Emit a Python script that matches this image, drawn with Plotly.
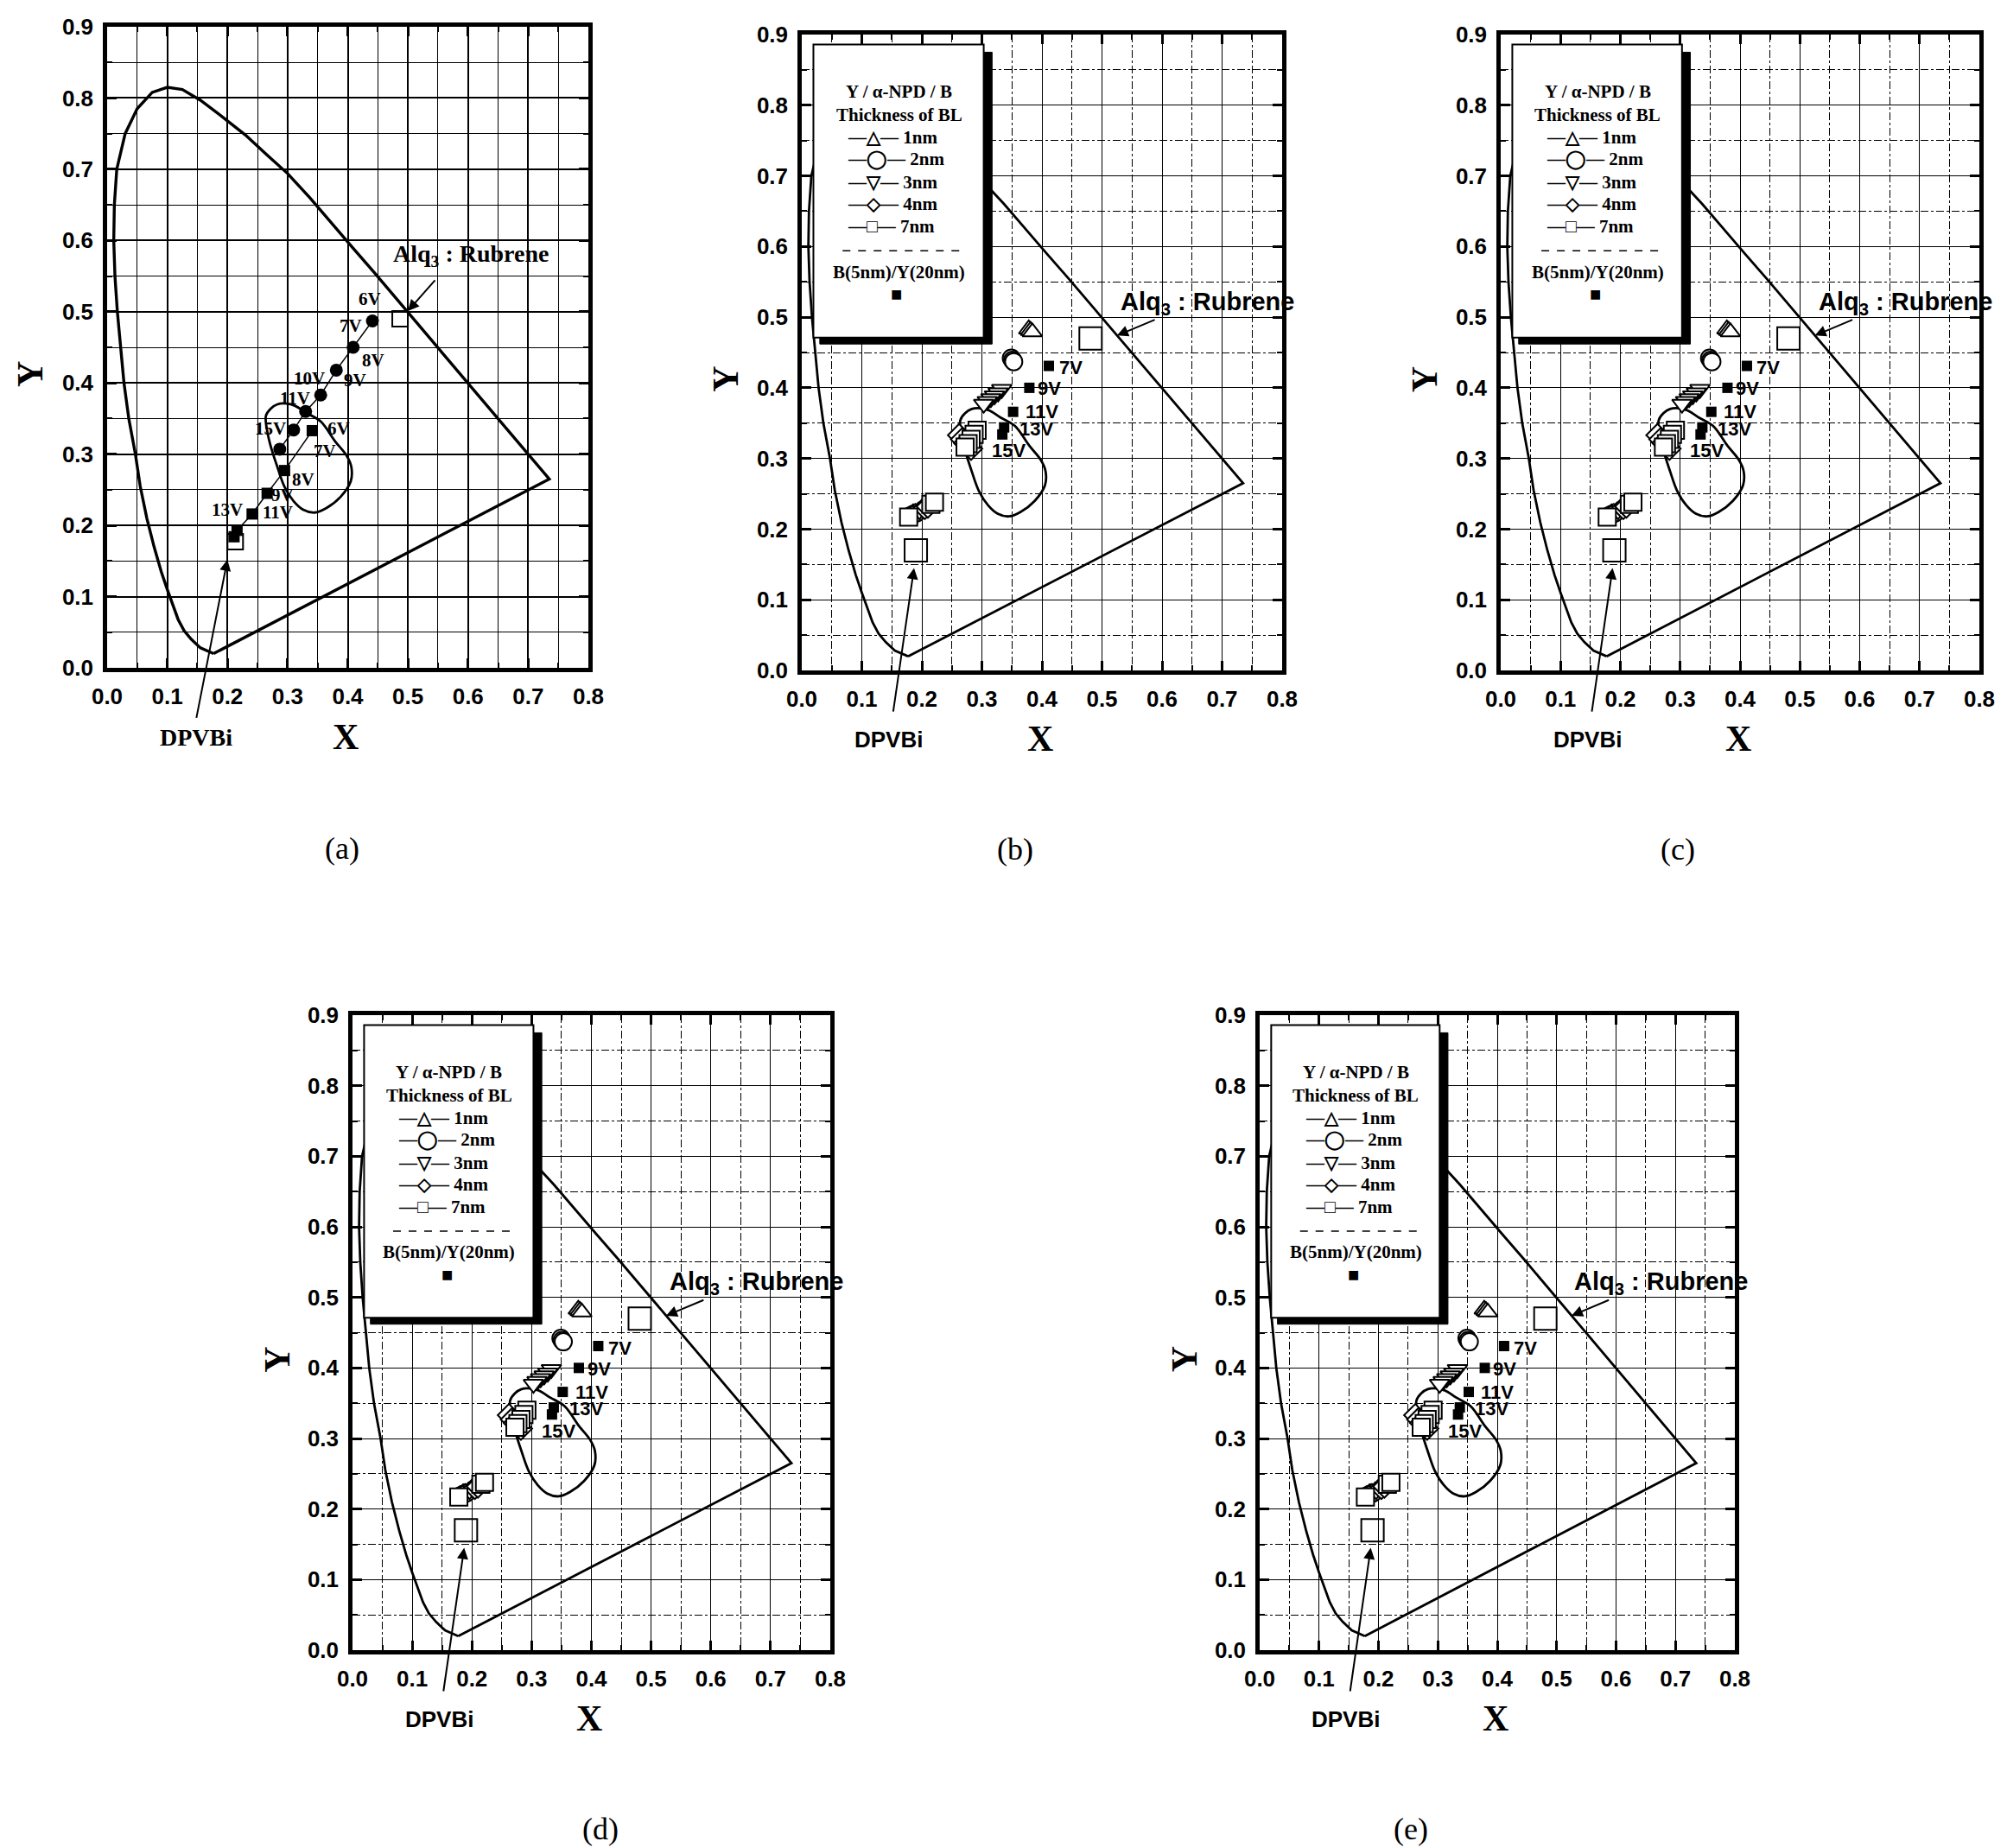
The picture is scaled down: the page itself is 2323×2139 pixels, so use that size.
import plotly.graph_objects as go

W, H = 2323, 2139
OFF = 8                      # the page shows the figure shifted by the body margin

# ---------------- data ----------------
# CIE spectral locus as drawn (closed by the purple line)
LOCUS_X = [0.177, 0.155, 0.140, 0.128, 0.118, 0.108, 0.100, 0.090, 0.078, 0.066, 0.055, 0.047,
           0.036, 0.028, 0.022, 0.017, 0.013, 0.011, 0.012, 0.016, 0.030, 0.050, 0.075, 0.100,
           0.125, 0.155, 0.194, 0.230, 0.266, 0.300, 0.337, 0.373, 0.409, 0.444, 0.479, 0.5125,
           0.545, 0.575, 0.603, 0.627, 0.648, 0.666, 0.692, 0.708, 0.719, 0.726, 0.735, 0.177]
LOCUS_Y = [0.020, 0.028, 0.040, 0.052, 0.068, 0.090, 0.110, 0.135, 0.170, 0.210, 0.255, 0.300,
           0.350, 0.400, 0.450, 0.500, 0.550, 0.600, 0.650, 0.700, 0.750, 0.785, 0.808, 0.815,
           0.812, 0.797, 0.772, 0.748, 0.720, 0.694, 0.660, 0.624, 0.589, 0.555, 0.520, 0.4866,
           0.454, 0.424, 0.397, 0.3725, 0.351, 0.334, 0.308, 0.292, 0.281, 0.274, 0.265, 0.020]

# white-region contour
BLOB_X = [0.264, 0.272, 0.283, 0.298, 0.312, 0.331, 0.355, 0.379, 0.398, 0.406, 0.405, 0.388,
          0.364, 0.345, 0.326, 0.310, 0.295, 0.283, 0.271, 0.265, 0.264]
BLOB_Y = [0.354, 0.364, 0.370, 0.371, 0.368, 0.358, 0.346, 0.318, 0.298, 0.282, 0.262, 0.240,
          0.224, 0.218, 0.222, 0.234, 0.254, 0.282, 0.314, 0.338, 0.354]

# panel (a)
A_CIRC_X = [0.441, 0.409, 0.381, 0.355, 0.330, 0.310, 0.287]
A_CIRC_Y = [0.487, 0.450, 0.418, 0.383, 0.360, 0.334, 0.307]
A_CIRC_LABELS = ["6V", "7V", "8V", "9V", "10V", "11V", "15V"]
A_SQ_X = [0.341, 0.295, 0.266, 0.241, 0.216, 0.211]
A_SQ_Y = [0.333, 0.277, 0.245, 0.216, 0.193, 0.184]
A_SQ_LABELS = ["6V", "7V", "8V", "9V", "11V", "13V"]
A_REF_X = [0.487, 0.213]
A_REF_Y = [0.490, 0.177]

# panels (b)-(e)
TRI_UP_X = [0.378, 0.381, 0.384, 0.184, 0.189, 0.194]
TRI_UP_Y = [0.483, 0.481, 0.479, 0.221, 0.223, 0.225]
CIRC_X = [0.349, 0.351, 0.353, 0.181, 0.186, 0.191]
CIRC_Y = [0.442, 0.439, 0.437, 0.219, 0.221, 0.223]
TRI_DN_X = [0.333, 0.327, 0.321, 0.315, 0.309, 0.303, 0.196, 0.201]
TRI_DN_Y = [0.398, 0.393, 0.389, 0.385, 0.381, 0.377, 0.226, 0.229]
DIAM_X = [0.262, 0.267, 0.272, 0.277, 0.282, 0.205, 0.210]
DIAM_Y = [0.333, 0.327, 0.322, 0.318, 0.314, 0.230, 0.232]
SQ7_X = [0.292, 0.287, 0.282, 0.277, 0.272, 0.178, 0.215, 0.221]
SQ7_Y = [0.340, 0.334, 0.327, 0.321, 0.316, 0.217, 0.235, 0.238]
BY_X = [0.4115, 0.379, 0.352, 0.337, 0.334]
BY_Y = [0.431, 0.400, 0.366, 0.344, 0.334]
BY_LABELS = ["7V", "9V", "11V", "13V", "15V"]
REF_X = [0.481, 0.190]
REF_Y = [0.470, 0.170]

LEG_TITLE = ["Y / α-NPD / B", "Thickness of BL"]
LEG_ITEMS = ["1nm", "2nm", "3nm", "4nm", "7nm"]
LEG_SYMS = ["△", "◯", "▽", "◇", "□"]
LEG_REF = "B(5nm)/Y(20nm)"
PANEL_NAMES = ["(a)", "(b)", "(c)", "(d)", "(e)"]

# ---------------- layout constants ----------------
PANELS = [  # page-pixel boxes: x0, x1, ytop, ybottom
    (124, 681, 31, 773),
    (928, 1484, 40, 776),
    (1737, 2291, 40, 776),
    (408, 961, 1175, 1910),
    (1458, 2008, 1175, 1910),
]
A_CIRC_LAB_POS = [(0.436, 0.518), (0.405, 0.480), (0.442, 0.432), (0.412, 0.404),
                  (0.336, 0.406), (0.312, 0.378), (0.272, 0.336)]
A_SQ_LAB_POS = [(0.385, 0.336), (0.362, 0.304), (0.326, 0.264), (0.292, 0.242),
                (0.283, 0.218), (0.200, 0.222)]
BY_LAB_POS = [(0.4475, 0.428), (0.4125, 0.399), (0.400, 0.366), (0.391, 0.342), (0.345, 0.311)]
NAME_X = [0.39, 0.355, 0.296, 0.415, 0.255]

SERIF = "Liberation Serif"
SANS = "Liberation Sans"

fig = go.Figure()
annotations = []
shapes = []


def ids(i):
    s = "" if i == 1 else str(i)
    return "x" + s, "y" + s, "xaxis" + s, "yaxis" + s


def px2paper_x(p):
    return (p - OFF) / W


def px2paper_y(p):
    return 1 - (p - OFF) / H


def to_paper(i, x, y):
    px0, px1, pyt, pyb = PANELS[i - 1]
    return (px2paper_x(px0 + x / 0.8 * (px1 - px0)),
            px2paper_y(pyb - y / 0.9 * (pyb - pyt)))


def ann(xr, yr, x, y, text, size, family, **kw):
    d = dict(xref=xr, yref=yr, x=x, y=y, text=text, showarrow=False,
             xanchor="center", yanchor="middle",
             font=dict(size=size, family=family, color="black"))
    d.update(kw)
    annotations.append(d)


def ann_out(i, x, y, text, size, family, **kw):
    X, Y = to_paper(i, x, y)
    ann("paper", "paper", X, Y, text, size, family, **kw)


def arrow(xr, yr, hx, hy, tx, ty):
    annotations.append(dict(xref=xr, yref=yr, axref=xr, ayref=yr, x=hx, y=hy, ax=tx, ay=ty,
                            text="", showarrow=True, arrowhead=2, arrowsize=1.3,
                            arrowwidth=2, arrowcolor="black", standoff=0))


axes_layout = {}
for i, (px0, px1, pyt, pyb) in enumerate(PANELS, start=1):
    xr, yr, xa, ya = ids(i)
    first = (i == 1)
    minor_dash = "solid" if first else "dashdot"
    common = dict(showline=True, linewidth=4.5, linecolor="black", mirror="ticks",
                  ticks="inside", ticklen=11, tickwidth=2.5, tickcolor="black",
                  showgrid=True, gridcolor="black", gridwidth=1.5 if first else 1.3,
                  zeroline=False, dtick=0.1, tickformat=".1f", automargin=False,
                  tickfont=dict(family=SANS, size=26, color="black", weight="bold"),
                  minor=dict(dtick=0.05, ticks="inside", ticklen=6, tickwidth=2,
                             tickcolor="black", showgrid=True, gridcolor="black",
                             gridwidth=1.3 if first else 1.0, griddash=minor_dash))
    axes_layout[xa] = dict(common, domain=[px2paper_x(px0), px2paper_x(px1)], range=[0, 0.8],
                           anchor=yr, ticklabelstandoff=6)
    axes_layout[ya] = dict(common, domain=[px2paper_y(pyb), px2paper_y(pyt)], range=[0, 0.9],
                           anchor=xr, ticklabelstandoff=6)

    # locus and contour
    fig.add_trace(go.Scatter(x=LOCUS_X, y=LOCUS_Y, mode="lines", xaxis=xr, yaxis=yr,
                             line=dict(color="black", width=3.4 if first else 2.8),
                             showlegend=False, hoverinfo="skip"))
    fig.add_trace(go.Scatter(x=BLOB_X, y=BLOB_Y, mode="lines", xaxis=xr, yaxis=yr,
                             line=dict(color="black", width=2.8, shape="spline"),
                             showlegend=False, hoverinfo="skip"))

    # axis titles, panel name (outside the plot area -> paper coordinates)
    ann_out(i, 0.397, -0.097, "<b>X</b>", 42, SERIF)
    ann_out(i, -0.127, 0.412, "<b>Y</b>", 42, SERIF, textangle=-90)
    ann_out(i, NAME_X[i - 1], -0.253, PANEL_NAMES[i - 1], 36, SERIF)

    if first:
        fig.add_trace(go.Scatter(x=A_CIRC_X, y=A_CIRC_Y, mode="lines+markers", xaxis=xr, yaxis=yr,
                                 line=dict(color="black", width=1.5),
                                 marker=dict(symbol="circle", size=15, color="black"),
                                 showlegend=False))
        fig.add_trace(go.Scatter(x=A_SQ_X + [A_REF_X[1]], y=A_SQ_Y + [A_REF_Y[1]],
                                 mode="lines", xaxis=xr, yaxis=yr,
                                 line=dict(color="black", width=1.5), showlegend=False))
        fig.add_trace(go.Scatter(x=A_REF_X, y=A_REF_Y, mode="markers", xaxis=xr, yaxis=yr,
                                 marker=dict(symbol="square-open", size=18, color="black",
                                             line=dict(width=2)), showlegend=False))
        fig.add_trace(go.Scatter(x=A_SQ_X, y=A_SQ_Y, mode="markers", xaxis=xr, yaxis=yr,
                                 marker=dict(symbol="square", size=13, color="black"),
                                 showlegend=False))
        for t, (lx, ly) in zip(A_CIRC_LABELS, A_CIRC_LAB_POS):
            ann(xr, yr, lx, ly, "<b>%s</b>" % t, 21, SERIF)
        for t, (lx, ly) in zip(A_SQ_LABELS, A_SQ_LAB_POS):
            ann(xr, yr, lx, ly, "<b>%s</b>" % t, 21, SERIF)
        ann(xr, yr, 0.604, 0.579, "<b>Alq<sub>3</sub> : Rubrene</b>", 28, SERIF)
        arrow(xr, yr, 0.500, 0.501, 0.547, 0.546)
        ann_out(i, 0.148, -0.098, "<b>DPVBi</b>", 28, SERIF)
        arrow(xr, yr, 0.200, 0.152, 0.148, -0.072)
    else:
        mk = dict(color="white", line=dict(color="black", width=2))
        for sx, sy, sym in [(TRI_UP_X, TRI_UP_Y, "triangle-up"), (CIRC_X, CIRC_Y, "circle"),
                            (TRI_DN_X, TRI_DN_Y, "triangle-down"), (DIAM_X, DIAM_Y, "diamond"),
                            (SQ7_X, SQ7_Y, "square")]:
            fig.add_trace(go.Scatter(x=sx, y=sy, mode="markers", xaxis=xr, yaxis=yr,
                                     marker=dict(symbol=sym, size=20, **mk), showlegend=False))
        fig.add_trace(go.Scatter(x=REF_X, y=REF_Y, mode="markers", xaxis=xr, yaxis=yr,
                                 marker=dict(symbol="square-open", size=26, color="black",
                                             line=dict(width=2)), showlegend=False))
        fig.add_trace(go.Scatter(x=BY_X, y=BY_Y, mode="markers", xaxis=xr, yaxis=yr,
                                 marker=dict(symbol="square", size=12, color="black"),
                                 showlegend=False))
        for t, (lx, ly) in zip(BY_LABELS, BY_LAB_POS):
            ann(xr, yr, lx, ly, "<b>%s</b>" % t, 22, SANS)
        ann(xr, yr, 0.676, 0.520, "<b>Alq<sub>3</sub> : Rubrene</b>", 29, SANS)
        arrow(xr, yr, 0.525, 0.474, 0.590, 0.497)
        ann_out(i, 0.145, -0.098, "<b>DPVBi</b>", 26, SANS)
        arrow(xr, yr, 0.187, 0.145, 0.152, -0.060)

        # legend box with shadow
        shapes.append(dict(type="rect", xref=xr, yref=yr, x0=0.030, x1=0.317, y0=0.462, y1=0.875,
                           fillcolor="black", line=dict(color="black", width=1), layer="above"))
        shapes.append(dict(type="rect", xref=xr, yref=yr, x0=0.0194, x1=0.303, y0=0.471, y1=0.886,
                           fillcolor="white", line=dict(color="black", width=2), layer="above"))
        shapes.append(dict(type="line", xref=xr, yref=yr, x0=0.068, x1=0.272, y0=0.594, y1=0.594,
                           line=dict(color="black", width=1.5, dash="dash"), layer="above"))
        ann(xr, yr, 0.162, 0.819, "<b>%s</b>" % LEG_TITLE[0], 21, SERIF)
        ann(xr, yr, 0.162, 0.786, "<b>%s</b>" % LEG_TITLE[1], 21, SERIF)
        for k, (it, sy) in enumerate(zip(LEG_ITEMS, LEG_SYMS)):
            yy = [0.754, 0.723, 0.691, 0.660, 0.628][k]
            ann(xr, yr, 0.074, yy, "<b>—%s— %s</b>" % (sy, it), 21, SERIF, xanchor="left")
        ann(xr, yr, 0.162, 0.564, "<b>%s</b>" % LEG_REF, 21, SERIF)
        ann(xr, yr, 0.158, 0.532, "■", 22, SANS)

fig.update_layout(width=W, height=H, margin=dict(l=0, r=0, t=0, b=0, autoexpand=False),
                  paper_bgcolor="white", plot_bgcolor="white", showlegend=False,
                  annotations=annotations, shapes=shapes, **axes_layout)

fig.write_html("out.html")
